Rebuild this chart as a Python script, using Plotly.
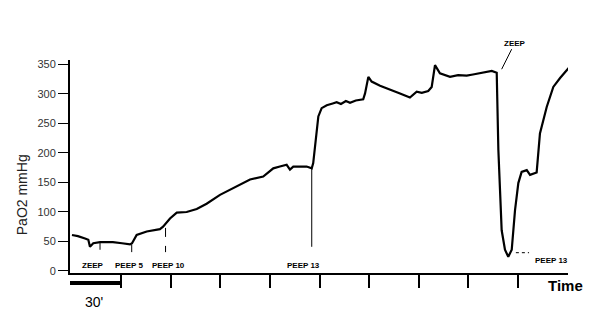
import plotly.graph_objects as go

# PaO2 trace (time in minutes, PaO2 in mmHg)
time_min = [0, 3.6, 7.9, 9.9, 10.9, 12.9, 17, 24.8, 30.3, 35.2, 36.4, 39.2, 45.3, 53.3, 55.2,
            59.4, 63.5, 69.5, 75.6, 81.6, 89.7, 97.8, 107.9, 115.9, 122, 126, 130.1, 132.1,
            134.1, 142.2, 145.3, 146.2, 147.3, 148.3, 149.3, 151.3, 154.4, 158, 160.4, 163,
            166, 168.5, 172, 176.5, 177.6, 179.6, 181.6, 186.7, 192.7, 198.8, 204.8, 208.9,
            212, 215.9, 218, 220, 223, 229.1, 234, 239.2, 243, 247.3, 251, 254.4, 257.4,
            258.4, 259.4, 260.4, 262.4, 264.4, 266.5, 268.5, 270.5, 272.5, 275.6, 277.6,
            281.6, 283.6, 287.7, 291.7, 295.8, 301]
pao2 = [61, 59, 55, 53, 41, 47, 49, 49, 47, 45, 47, 61, 67, 71, 75,
        89, 99, 100, 105, 114, 129, 140, 155, 160, 174, 177, 180, 172,
        177, 177, 174, 183, 211, 233, 262, 276, 281, 284, 286, 283,
        288, 285, 289, 291, 301, 329, 321, 314, 308, 301, 294, 304,
        302, 305, 312, 349, 335, 329, 332, 331, 333, 335, 337, 339, 336,
        205, 137, 69, 36, 24, 36, 103, 149, 168, 171, 163,
        167, 233, 278, 312, 327, 344]

# event markers
event_time = [17, 36.2, 145.3]
event_top = [49, 45, 174]
event_bottom = [36, 32, 41]
peep10_time = [56.7, 56.7]
peep10_vals = [73, 32]

labels = ["ZEEP", "PEEP 5", "PEEP 10", "PEEP 13", "PEEP 13"]
label_time = [12.7, 34.8, 58.2, 140.3, 290.9]
label_vals = [8.5, 8.5, 8.5, 8.5, 17]

y_ticks = [0, 50, 100, 150, 200, 250, 300, 350]
x_ticks = [30, 60, 90, 120, 150, 180, 210, 240, 270]

FONT = "Liberation Sans, Arial, sans-serif"

fig = go.Figure()
fig.add_trace(go.Scatter(x=time_min, y=pao2, mode="lines",
                         line=dict(color="black", width=2.2), hoverinfo="skip"))

ex, ey = [], []
for t, a, b in zip(event_time, event_top, event_bottom):
    ex += [t, t, None]
    ey += [a, b, None]
fig.add_trace(go.Scatter(x=ex, y=ey, mode="lines", line=dict(color="black", width=1)))
fig.add_trace(go.Scatter(x=peep10_time, y=peep10_vals, mode="lines",
                         line=dict(color="black", width=1, dash="dash")))
# dotted leader near the trough
fig.add_trace(go.Scatter(x=[269, 277], y=[31, 31], mode="lines",
                         line=dict(color="black", width=1, dash="dot")))

for txt, t, v in zip(labels, label_time, label_vals):
    fig.add_annotation(x=t, y=v, text=txt, showarrow=False, xanchor="center", yanchor="middle",
                       font=dict(family=FONT, size=8, color="black", weight="bold"))

fig.add_annotation(x=260.4, y=342, text="ZEEP", showarrow=True, arrowhead=0,
                   arrowwidth=1, arrowcolor="black", ax=13, ay=-26,
                   font=dict(family=FONT, size=8, color="black", weight="bold"))

fig.add_annotation(xref="paper", yref="paper", x=-0.096, y=0.366, text="PaO2 mmHg",
                   textangle=-90, showarrow=False, xanchor="center", yanchor="middle",
                   font=dict(family=FONT, size=14, color="#222"))
fig.add_annotation(xref="paper", yref="paper", x=0.994, y=-0.061, text="Time",
                   showarrow=False, xanchor="center", yanchor="middle",
                   font=dict(family=FONT, size=15, color="black", weight="bold"))
fig.add_annotation(x=13.3, yref="paper", y=-0.136, text="30'", xanchor="center", yanchor="middle",
                   showarrow=False, font=dict(family=FONT, size=14, color="black"))

fig.add_shape(type="line", xref="x", yref="paper", x0=-1.2, x1=30.3, y0=-0.047, y1=-0.047,
              line=dict(color="black", width=4))

fig.update_layout(
    width=600, height=328, showlegend=False,
    margin=dict(l=62, r=40, t=52, b=63),
    plot_bgcolor="white", paper_bgcolor="white",
    font=dict(family=FONT, color="#333"),
)
fig.update_xaxes(range=[-1.2, 300.6], showline=True, linewidth=2, linecolor="black",
                 ticks="outside", tickvals=x_ticks, ticklen=13, tickwidth=2,
                 tickcolor="black", showticklabels=False, showgrid=False, zeroline=False)
fig.update_yaxes(range=[-3.4, 357.6], showline=True, linewidth=2, linecolor="black",
                 ticks="outside", tickvals=y_ticks, ticklen=10, tickwidth=1,
                 tickcolor="black", tickfont=dict(size=11, color="#333"),
                 showgrid=False, zeroline=False)

fig.write_html("out.html")
